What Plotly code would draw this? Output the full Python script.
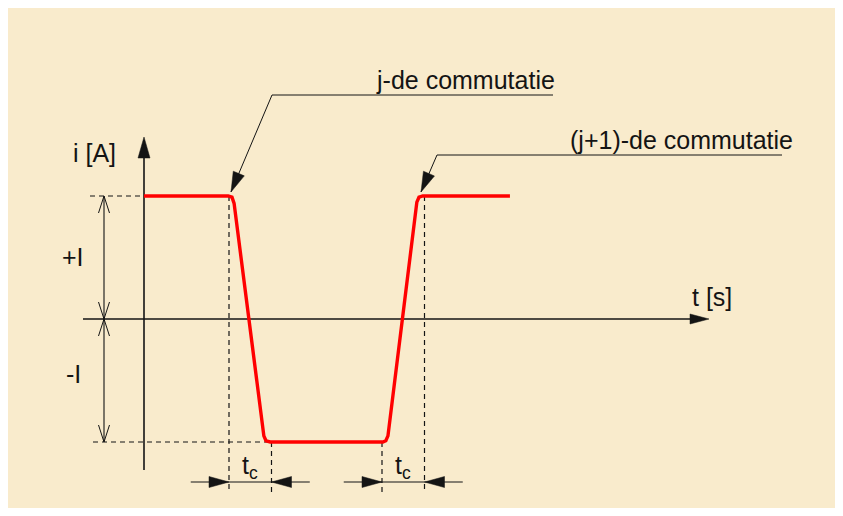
import math
import plotly.graph_objects as go

# ---------------- data (diagram units: time in units of t_c, current in units of I) -------------
I_amp = 1.0                      # +I / -I level
t_c = 1.0                        # commutation time
t_comm = [2.0, 5.6]              # start of the j-th and (j+1)-th commutation
wave_t = [0.0, 1.98, 2.07, 2.12, 2.82, 2.87, 2.97, 5.62, 5.69, 5.74, 6.42, 6.47, 6.56, 8.61]
wave_i = [1.0, 1.0, 0.99, 0.94, -0.95, -0.99, -1.0, -1.0, -0.99, -0.95, 0.95, 0.99, 1.0, 1.0]
axis_labels = ["i [A]", "t [s]"]
level_labels = ["+I", "-I"]
comm_labels = ["j-de commutatie", "(j+1)-de commutatie"]
tc_label = "t<sub>c</sub>"

# ---------------- layout geometry ----------------
PAGE_OFF = 8               # page body margin (on every side)
W, H = 843 - 2 * PAGE_OFF, 516 - 2 * PAGE_OFF
OX, OY = 144, 319          # screen pixel position of the origin
PX_T, PX_I = 42.5, 123.0   # pixels per unit

def X(px):
    return (px - OX) / PX_T

def Y(py):
    return (OY - py) / PX_I

INK = "#141414"
RED = "#ff0000"
BG = "#f9ebcc"
FONT = "Liberation Sans, Arial, sans-serif"
FS = 25

fig = go.Figure()

def line(xs, ys, color=INK, width=1.2, dash=None):
    fig.add_trace(go.Scatter(x=xs, y=ys, mode="lines",
                             line=dict(color=color, width=width, dash=dash),
                             hoverinfo="skip", showlegend=False))

def head(tu, tv, dx, dy, L, Wd, filled=True, width=1.0):
    n = math.hypot(dx, dy)
    dx, dy = dx / n, dy / n
    bx, by = -dx * L, -dy * L
    qx, qy = -dy, dx
    p1 = (bx + qx * Wd, by + qy * Wd)
    p2 = (bx - qx * Wd, by - qy * Wd)
    to_u = lambda o: tu + o[0] / PX_T
    to_v = lambda o: tv - o[1] / PX_I
    if filled:
        fig.add_trace(go.Scatter(x=[tu, to_u(p1), to_u(p2), tu], y=[tv, to_v(p1), to_v(p2), tv],
                                 mode="lines", fill="toself", fillcolor=INK,
                                 line=dict(color=INK, width=0.5),
                                 hoverinfo="skip", showlegend=False))
    else:
        fig.add_trace(go.Scatter(x=[to_u(p1), tu, to_u(p2)], y=[to_v(p1), tv, to_v(p2)],
                                 mode="lines", line=dict(color=INK, width=width),
                                 hoverinfo="skip", showlegend=False))

def text(s, u, v, xanchor="center", size=FS):
    fig.add_annotation(x=u, y=v, text=s, showarrow=False, xanchor=xanchor, yanchor="middle",
                       font=dict(family=FONT, size=size, color=INK))

# axes with arrows
line([0, 0], [Y(470), Y(150)], width=1.6)
head(0, Y(137), 0, -1, 21, 6)
line([X(83), X(696)], [0, 0], width=1.6)
head(X(709), 0, 1, 0, 19, 5)

# dashed extension lines
dash = "5px,4px"
line([X(90), 0], [I_amp, I_amp], dash=dash)
line([X(93), t_comm[0] + t_c], [-I_amp, -I_amp], dash=dash)
line([t_comm[0], t_comm[0]], [I_amp, Y(493)], dash=dash)
line([t_comm[0] + t_c, t_comm[0] + t_c], [-I_amp, Y(493)], dash=dash)
line([t_comm[1], t_comm[1]], [-I_amp, Y(493)], dash=dash)
line([t_comm[1] + t_c, t_comm[1] + t_c], [I_amp, Y(493)], dash=dash)

# +I / -I dimension
xd = X(104)
line([xd, xd], [I_amp, -I_amp], width=1.1)
head(xd, I_amp, 0, -1, 17, 5.5, filled=False)
head(xd, 0, 0, 1, 17, 5.5, filled=False)
head(xd, 0, 0, -1, 17, 5.5, filled=False)
head(xd, -I_amp, 0, 1, 17, 5.5, filled=False)

# t_c dimensions
vd = Y(482)
for tk in t_comm:
    line([tk - 0.9, tk + t_c + 0.9], [vd, vd], width=1.1)
    head(tk, vd, 1, 0, 20, 5.5)
    head(tk + t_c, vd, -1, 0, 20, 5.5)
    text(tc_label, tk + t_c / 2, Y(467))

# waveform
line(wave_t, wave_i, color=RED, width=3.4)

# leader lines
tips = [(t_comm[0] + 0.047, I_amp + 0.033), (t_comm[1] + t_c - 0.082, I_amp + 0.033)]
knees = [(272, 95), (437, 155)]
ends = [553, 782]
for (tu, tv), (kx, ky), ex in zip(tips, knees, ends):
    line([X(ex), X(kx), tu], [Y(ky), Y(ky), tv], width=1.0)
    tpx, tpy = OX + tu * PX_T, OY - tv * PX_I
    head(tu, tv, tpx - kx, tpy - ky, 20, 6)

text(comm_labels[0], X(557), Y(80), xanchor="right")
text(comm_labels[1], X(795), Y(140), xanchor="right")
text(axis_labels[0], X(94), Y(153))
text(axis_labels[1], X(712), Y(297))
text(level_labels[0], X(72.5), Y(257))
text(level_labels[1], X(73), Y(374))

fig.update_layout(
    width=W, height=H, margin=dict(l=0, r=0, t=0, b=0),
    paper_bgcolor=BG, plot_bgcolor=BG,
    xaxis=dict(range=[X(PAGE_OFF), X(843 - PAGE_OFF)], visible=False, fixedrange=True),
    yaxis=dict(range=[Y(516 - PAGE_OFF), Y(PAGE_OFF)], visible=False, fixedrange=True),
    showlegend=False,
)
fig.write_html("out.html")
